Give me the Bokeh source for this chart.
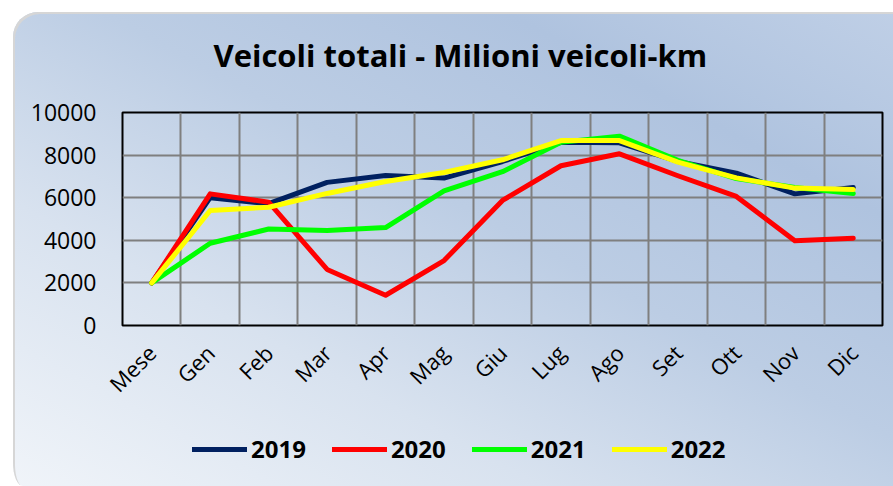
import math
from bokeh.plotting import figure
from bokeh.layouts import column
from bokeh.models import Range1d, FixedTicker, Legend, LegendItem, Label
from bokeh.embed import file_html
from bokeh.resources import INLINE

months = ["Mese", "Gen", "Feb", "Mar", "Apr", "Mag", "Giu", "Lug", "Ago", "Set", "Ott", "Nov", "Dic"]
v2019 = [2000, 6000, 5720, 6720, 7040, 6920, 7700, 8600, 8580, 7700, 7150, 6180, 6480]
v2020 = [2000, 6180, 5790, 2630, 1420, 3050, 5870, 7500, 8060, 7030, 6060, 3980, 4100]
v2021 = [2000, 3860, 4530, 4460, 4600, 6320, 7220, 8600, 8890, 7750, 6900, 6480, 6200]
v2022 = [2000, 5400, 5550, 6200, 6760, 7180, 7780, 8680, 8680, 7670, 6930, 6450, 6380]
years = ["2019", "2020", "2021", "2022"]
colors = ["#002060", "#FF0000", "#00FF00", "#FFFF00"]
y_ticks = [0, 2000, 4000, 6000, 8000, 10000]
title_text = "Veicoli totali - Milioni veicoli-km"

xs = list(range(len(months)))
series = [v2019, v2020, v2021, v2022]


def blank(height, **kw):
    f = figure(width=880, height=height, output_backend="svg", toolbar_location=None,
               title=None, x_axis_location=None, y_axis_location=None,
               min_border=0, min_border_left=0, min_border_right=0,
               min_border_top=0, min_border_bottom=0, **kw)
    f.grid.visible = False
    f.outline_line_color = None
    f.background_fill_alpha = 0
    f.border_fill_alpha = 0
    return f


# title strip
pt = blank(80)
pt.add_layout(Label(text=title_text, x=91, y=38, x_units="screen", y_units="screen",
                    text_font="Open Sans", text_font_size="31px", text_font_style="bold",
                    text_color="black", text_baseline="alphabetic", text_align="left"))

# main chart
p = figure(frame_width=760, frame_height=213, output_backend="svg", toolbar_location=None,
           title=None,
           x_range=Range1d(-0.5, len(months) - 0.5), y_range=Range1d(0, 10000),
           min_border_left=109, min_border_right=11, min_border_top=20, min_border_bottom=90)
p.background_fill_alpha = 0
p.border_fill_alpha = 0
p.outline_line_color = "black"
p.outline_line_width = 2

p.xaxis.ticker = FixedTicker(ticks=xs)
p.xaxis.major_label_overrides = {i: m for i, m in enumerate(months)}
p.xaxis.major_label_orientation = math.pi / 4
p.yaxis.ticker = FixedTicker(ticks=y_ticks)
for ax in (p.xaxis, p.yaxis):
    ax.axis_line_color = None
    ax.major_tick_line_color = None
    ax.minor_tick_line_color = None
    ax.major_label_text_font = "Open Sans"
    ax.major_label_text_color = "black"
p.xaxis.major_label_text_font_size = "22px"
p.yaxis.major_label_text_font_size = "23px"
p.yaxis.major_label_standoff = 20
p.xaxis.major_label_standoff = 17

p.xgrid.ticker = FixedTicker(ticks=[i + 0.5 for i in xs[:-1]])
p.ygrid.ticker = FixedTicker(ticks=y_ticks)
for g in (p.xgrid, p.ygrid):
    g.grid_line_color = "#7f7f7f"
    g.grid_line_width = 2

for vals, c in zip(series, colors):
    p.line(xs, vals, line_color=c, line_width=5, line_join="round", line_cap="round")

# legend strip: same series, drawn outside this strip's visible y range (only the legend shows)
pl = blank(71, x_range=Range1d(-0.5, len(months) - 0.5), y_range=Range1d(-3, -2))
items = []
for y, vals, c in zip(years, series, colors):
    r = pl.line(xs, vals, line_color=c, line_width=5, line_cap="round")
    items.append(LegendItem(label=y, renderers=[r]))
legend = Legend(items=items, orientation="horizontal", location=(70, 21),
                glyph_width=55, glyph_height=30, label_standoff=4, spacing=26,
                padding=0, margin=0, border_line_color=None, background_fill_alpha=0,
                label_text_font="Open Sans", label_text_font_size="24px",
                label_text_font_style="bold", label_text_color="black")
pl.add_layout(legend)

layout = column(pt, p, pl, spacing=0)
layout.margin = (12, 0, 0, 13)
layout.styles = {
    "background": "linear-gradient(to top right, #f0f4f9 0%, #d8e2ef 30%, #bccde4 55%, #afc3df 78%, #bfcfe6 100%)",
    "box-shadow": "inset 2px 2px 0 0 #d6d6d6",
    "border-top-left-radius": "25px",
    "border-bottom-left-radius": "10px 23px",
}

open("out.html", "w").write(file_html(layout, INLINE))
